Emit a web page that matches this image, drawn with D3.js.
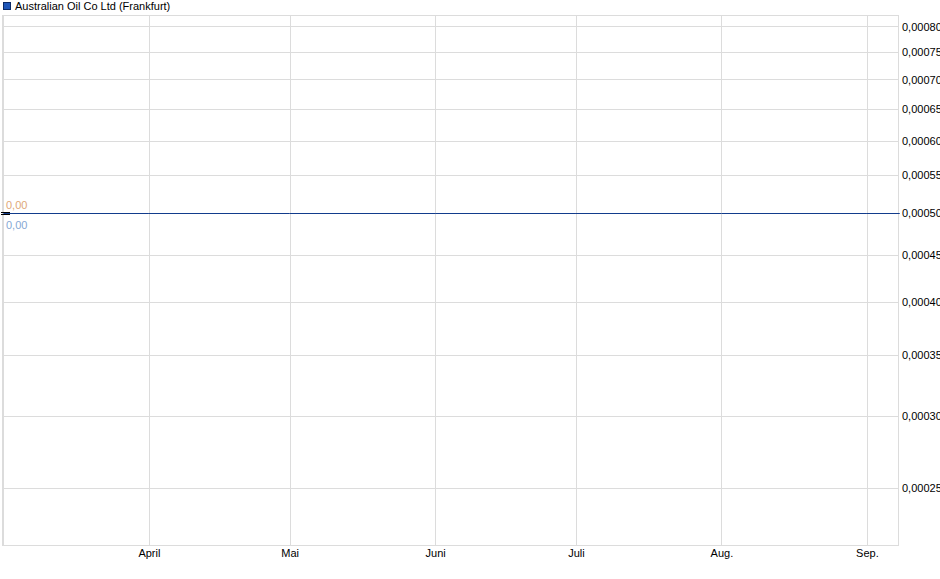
<!DOCTYPE html>
<html>
<head>
<meta charset="utf-8">
<script src="https://cdn.jsdelivr.net/npm/d3@7"></script>
<style>
  body { margin: 0; background: #fff; }
  svg { font-family: "Liberation Sans", Arial, sans-serif; }
</style>
</head>
<body>
<div class="chart"></div>
<script>
const seriesName = 'Australian Oil Co Ltd (Frankfurt)';

// price points (constant quote)
const priceDates = ['2024-03-01', '2024-04-01', '2024-05-01', '2024-06-01', '2024-07-01', '2024-08-01', '2024-09-01', '2024-09-08'];
const priceValues = [0.0005, 0.0005, 0.0005, 0.0005, 0.0005, 0.0005, 0.0005, 0.0005];

const yTicks = [0.00025, 0.0003, 0.00035, 0.0004, 0.00045, 0.0005, 0.00055, 0.0006, 0.00065, 0.0007, 0.00075, 0.0008];
const monthTicks = ['2024-03-01', '2024-04-01', '2024-05-01', '2024-06-01', '2024-07-01', '2024-08-01', '2024-09-01'];
const monthLabels = ['', 'April', 'Mai', 'Juni', 'Juli', 'Aug.', 'Sep.'];

const width = 940;
const height = 579;
const margin = { top: 16, right: 42, bottom: 34, left: 3 };

const parse = d3.timeParse('%Y-%m-%d');
const data = priceDates.map((d, i) => ({ date: parse(d), value: priceValues[i] }));

const xScale = d3.scaleTime()
    .domain([new Date(2024, 1, 29, 22), new Date(2024, 8, 7, 15)])
    .range([margin.left, width - margin.right]);

const yScale = d3.scaleLog()
    .domain([0.00021655, 0.00082145])
    .range([height - margin.bottom, margin.top]);

const svg = d3.select('.chart')
    .append('svg')
    .attr('width', width)
    .attr('height', height);

const gridColor = '#dcdcdc';

// horizontal grid
svg.append('g')
    .selectAll('line')
    .data(yTicks)
    .enter()
    .append('line')
    .attr('x1', margin.left)
    .attr('x2', width - margin.right)
    .attr('y1', d => Math.round(yScale(d)) + 0.5)
    .attr('y2', d => Math.round(yScale(d)) + 0.5)
    .attr('stroke', gridColor);

// vertical grid
svg.append('g')
    .selectAll('line')
    .data(monthTicks)
    .enter()
    .append('line')
    .attr('x1', d => Math.round(xScale(parse(d))) + 0.5)
    .attr('x2', d => Math.round(xScale(parse(d))) + 0.5)
    .attr('y1', margin.top)
    .attr('y2', height - margin.bottom)
    .attr('stroke', gridColor);

// frame
svg.append('rect')
    .attr('x', margin.left - 0.5)
    .attr('y', margin.top - 0.5)
    .attr('width', width - margin.right - margin.left + 1)
    .attr('height', height - margin.bottom - margin.top + 1)
    .attr('fill', 'none')
    .attr('stroke', gridColor);

// y axis (right)
const yAxis = svg.append('g')
    .attr('transform', `translate(${width - margin.right}, 0)`)
    .call(d3.axisRight(yScale)
        .tickValues(yTicks)
        .tickSize(0)
        .tickPadding(4)
        .tickFormat(d => d3.format('.5f')(d).replace('.', ',')));
yAxis.select('.domain').remove();
yAxis.selectAll('text')
    .attr('font-size', 11)
    .attr('font-family', '"Liberation Sans", Arial, sans-serif')
    .attr('fill', '#000');

// x axis
const xAxis = svg.append('g')
    .attr('transform', `translate(0, ${height - margin.bottom})`)
    .call(d3.axisBottom(xScale)
        .tickValues(monthTicks.map(parse))
        .tickSize(0)
        .tickPadding(4)
        .tickFormat((d, i) => monthLabels[i]));
xAxis.select('.domain').remove();
xAxis.selectAll('text')
    .attr('font-size', 11)
    .attr('font-family', '"Liberation Sans", Arial, sans-serif')
    .attr('fill', '#000');

// price line (snapped to pixel grid so it stays crisp)
const line = d3.line()
    .x(d => Math.min(xScale(d.date), width - margin.right + 2))
    .y(d => Math.round(yScale(d.value)) + 0.5);

svg.append('path')
    .datum(data)
    .attr('d', line)
    .attr('fill', 'none')
    .attr('stroke', '#123c8c')
    .attr('stroke-width', 1);

// start marker
const y0 = Math.round(yScale(priceValues[0])) + 0.5;
[-1, 1].forEach(off => {
    svg.append('line')
        .attr('x1', 1)
        .attr('x2', 10)
        .attr('y1', y0 + off)
        .attr('y2', y0 + off)
        .attr('stroke', '#000')
        .attr('stroke-width', 1);
});

svg.append('text')
    .attr('x', 6)
    .attr('y', y0 - 5)
    .attr('font-size', 11)
    .attr('fill', '#e0a878')
    .text('0,00');

svg.append('text')
    .attr('x', 6)
    .attr('y', y0 + 15)
    .attr('font-size', 11)
    .attr('fill', '#86a8d4')
    .text('0,00');

// legend
svg.append('rect')
    .attr('x', 3.5)
    .attr('y', 2.5)
    .attr('width', 7)
    .attr('height', 7)
    .attr('fill', '#1f56b8')
    .attr('stroke', '#0c2a66');

svg.append('text')
    .attr('x', 15)
    .attr('y', 10)
    .attr('font-size', 11)
    .attr('fill', '#000')
    .text(seriesName);
</script>
</body>
</html>
